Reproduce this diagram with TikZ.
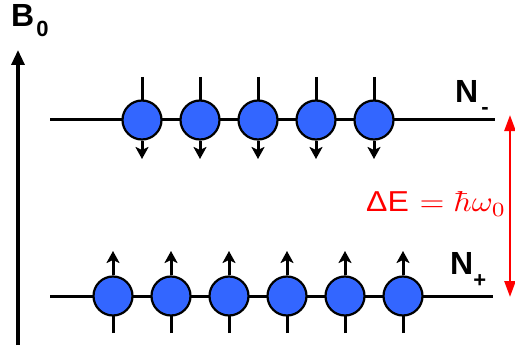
\documentclass[tikz,border=0pt]{standalone}
\usepackage{fontspec}
\usepackage{graphicx}
\newfontfamily\arial{Liberation Sans}
\usetikzlibrary{arrows.meta}
\definecolor{spinblue}{RGB}{51,102,255}
\definecolor{dered}{RGB}{255,0,0}
\newcommand{\subsz}{\fontsize{22}{22}\selectfont}
\tikzset{
  spin/.style={circle, draw=black, line width=2.2pt, fill=spinblue, minimum size=39pt, inner sep=0pt},
  level/.style={line width=3pt},
  stem/.style={line width=3pt},
  spinarrow/.style={line width=3pt, -{Stealth[length=12pt,width=13pt,inset=3pt]}},
  axisarrow/.style={line width=3.2pt, -{Triangle[length=15pt,width=13pt]}},
  gaparrow/.style={line width=2.6pt, dered, {Triangle[length=16pt,width=11pt]}-{Triangle[length=16pt,width=11pt]}},
  lbl/.style={inner sep=0pt, font=\arial\bfseries\fontsize{32}{34}\selectfont}
}
\begin{document}
\begin{tikzpicture}[x=1pt,y=1pt]
\useasboundingbox (0,0) rectangle (515,349);
% axis
\coordinate (axb) at (18,4);
\coordinate (axt) at (18,299);
\draw[axisarrow] (axb) -- (axt);
\node[lbl, anchor=base west] (B0) at (11,322) {B\kern2pt\raisebox{-10pt}{\subsz 0}};
% upper level
\coordinate (ul) at (50,229);
\coordinate (ur) at (495,229);
\draw[level] (ul) -- (ur);
\foreach \i in {0,...,4} {
  \pgfmathsetmacro{\xx}{142+58*\i}
  \coordinate (ut\i) at (\xx,272);
  \coordinate (ub\i) at (\xx,190);
  \draw[stem] (ut\i) -- (\xx,229);
  \node[spin] (u\i) at (\xx,229) {};
  \draw[spinarrow] (u\i.south) -- (ub\i);
}
\node[lbl, anchor=base west] (Nm) at (455,246) {N\kern3pt\raisebox{-12pt}{\subsz -}};
% lower level
\coordinate (ll) at (50,53);
\coordinate (lr) at (493,53);
\draw[level] (ll) -- (lr);
\foreach \i in {0,...,5} {
  \pgfmathsetmacro{\xx}{113+58*\i}
  \coordinate (lt\i) at (\xx,98);
  \coordinate (lb\i) at (\xx,16);
  \draw[stem] (lb\i) -- (\xx,53);
  \node[spin] (l\i) at (\xx,53) {};
  \draw[spinarrow] (l\i.north) -- (lt\i);
}
\node[lbl, anchor=base west] (Np) at (450,75) {N\raisebox{-13pt}{\subsz +}};
% energy gap
\coordinate (gt) at (510,234);
\coordinate (gb) at (510,52);
\draw[gaparrow] (gb) -- (gt);
\node[anchor=base west, inner sep=0pt, text=dered] (dE) at (366,137) {\resizebox{140pt}{20pt}{{\arial ΔE} $=\hbar\omega_0$}};
\end{tikzpicture}
\end{document}
